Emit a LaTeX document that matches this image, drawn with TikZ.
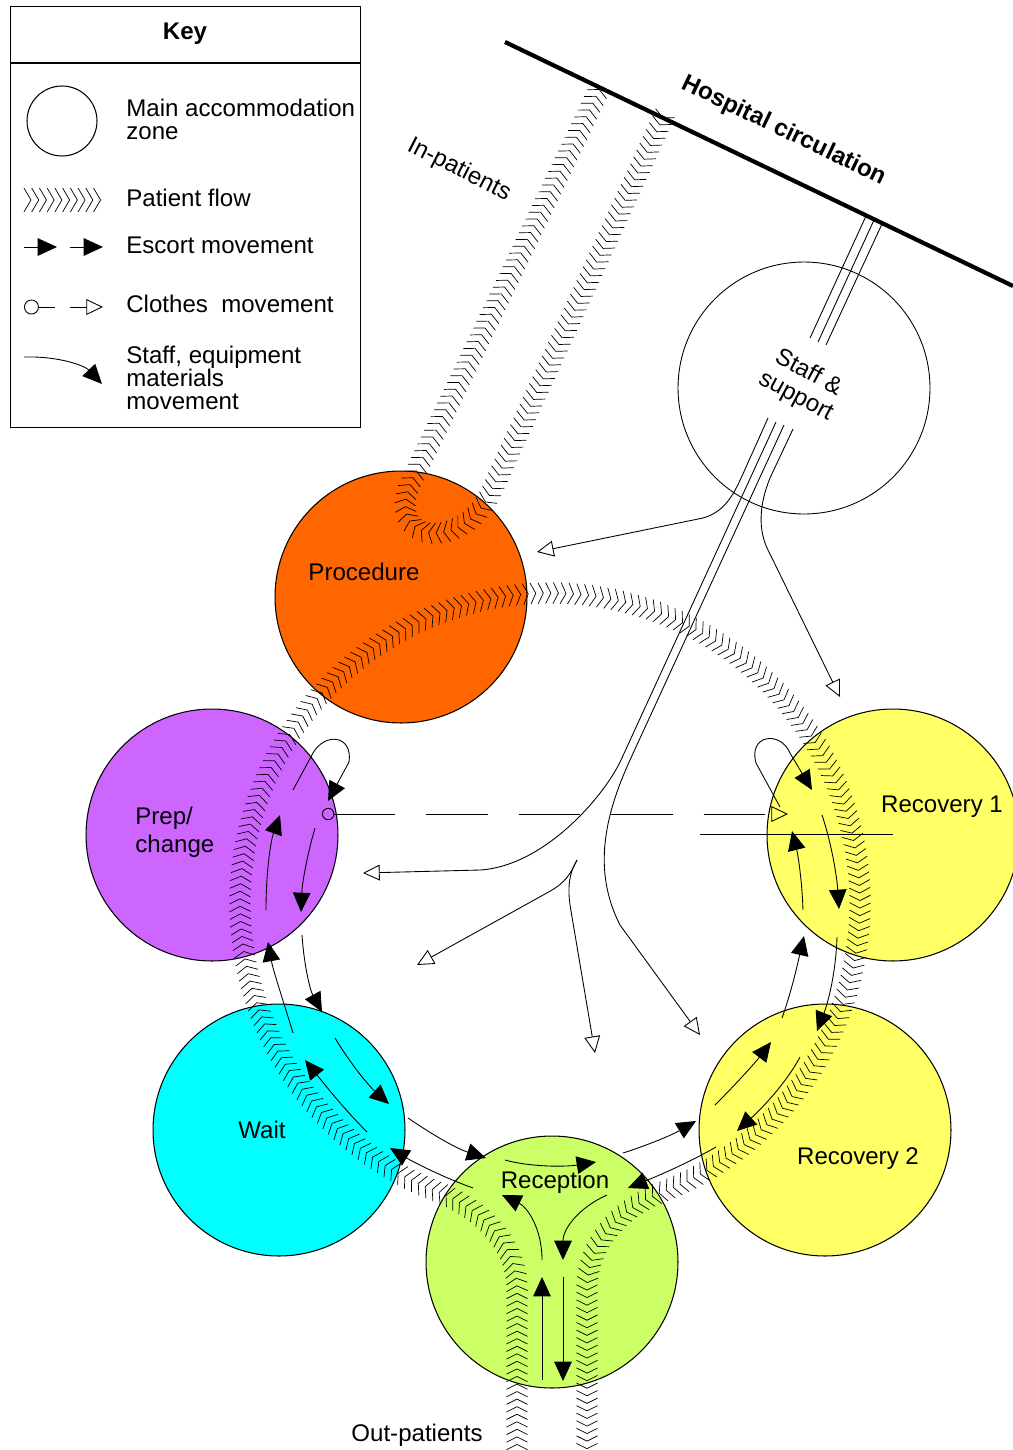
\documentclass[tikz,border=0pt]{standalone}
\usepackage{fontspec}
\setmainfont{Liberation Sans}
\usetikzlibrary{arrows.meta,decorations.markings}
\definecolor{procorange}{HTML}{FF6600}
\definecolor{preppurple}{HTML}{CC66FF}
\definecolor{recyellow}{HTML}{FFFF66}
\definecolor{waitcyan}{HTML}{00FFFF}
\definecolor{reclime}{HTML}{CCFF66}
\begin{document}
\begin{tikzpicture}[
    x=0.02cm, y=-0.02cm,
    zone/.style={circle, draw, line width=0.6pt, minimum size=5.04cm, inner sep=0pt},
    lbl/.style={inner sep=0pt, font=\fontsize{13.7}{13}\selectfont},
    boldlbl/.style={inner sep=0pt, font=\fontsize{13.7}{13}\selectfont\bfseries},
    pflow/.style={postaction={decorate}, decoration={markings,
        mark=between positions 0 and 1 step 4.3pt with
        {\draw[line width=0.4pt] (-3pt,6pt) -- (0pt,0pt) -- (-3pt,-6pt);}}},
    keyflow/.style={postaction={decorate}, decoration={markings,
        mark=between positions 0 and 1 step 4.4pt with
        {\draw[line width=0.4pt] (-4pt,6.8pt) -- (0pt,0pt) -- (-4pt,-6.8pt);}}},
    esc/.style={line width=0.5pt, -{Triangle[length=11pt,width=10pt]}},
    staff/.style={line width=0.5pt, -{Triangle[open,length=9.5pt,width=9pt]}},
    clothes/.style={line width=0.5pt, dash pattern=on 35pt off 17.6pt,
        {Circle[open,length=7pt]}-{Triangle[open,length=9.5pt,width=9pt]}}
]
\useasboundingbox (0,0) rectangle (1013,1450);
\clip (0,0) rectangle (1013,1450);

\node[draw, line width=0.6pt, anchor=north west, minimum width=7cm, minimum height=8.42cm, inner sep=0pt] (keybox) at (10,6) {};
\coordinate (ksep1) at (10,63);
\coordinate (ksep2) at (360,63);
\draw[line width=0.6pt] (ksep1) -- (ksep2);
\node[boldlbl] (keytitle) at (185,34) {Key};

\node[zone, minimum size=1.4cm] (keyzone) at (62,121) {};
\node[lbl, anchor=west, align=left] (keyzonetxt) at (126,119) {Main accommodation\\zone};

\coordinate (kf1) at (31,200);
\coordinate (kf2) at (101,200);
\path[keyflow] (kf1) -- (kf2);
\node[lbl, anchor=west] (keyflowtxt) at (126,198) {Patient flow};

\coordinate (ke1) at (24,247);
\coordinate (ke2) at (57,247);
\coordinate (ke3) at (70,247);
\coordinate (ke4) at (103,247);
\draw[esc] (ke1) -- (ke2);
\draw[esc] (ke3) -- (ke4);
\node[lbl, anchor=west] (keyesctxt) at (126,245) {Escort movement};

\coordinate (kc1) at (24,307);
\coordinate (kc2) at (55,307);
\coordinate (kc3) at (70,307);
\coordinate (kc4) at (103,307);
\draw[line width=0.5pt, {Circle[open,length=8.5pt]}-] (kc1) -- (kc2);
\draw[line width=0.5pt, -{Triangle[open,length=9.5pt,width=9pt]}] (kc3) -- (kc4);
\node[lbl, anchor=west] (keyclothtxt) at (126,304) {Clothes\ \ movement};

\coordinate (ks1) at (24,357);
\coordinate (ks2) at (102,384);
\draw[esc] (ks1) .. controls (60,356) and (85,366) .. (ks2);
\node[lbl, anchor=west, align=left] (keystafftxt) at (126,378) {Staff, equipment\\materials\\movement};

\coordinate (hc1) at (505,42);
\coordinate (hc2) at (1013,286);
\draw[line width=2.4pt] (hc1) -- (hc2);

\node[zone, fill=procorange] (proc) at (401,597) {};
\node[zone, fill=preppurple] (prep) at (212,835) {};
\node[zone, fill=recyellow] (rec1) at (893,835) {};
\node[zone, fill=waitcyan] (wait) at (279,1130) {};
\node[zone, fill=reclime] (recep) at (552,1262) {};
\node[zone, fill=recyellow] (rec2) at (825,1130) {};
\node[zone, line width=0.5pt] (staffzone) at (804,388) {};

\coordinate (in1) at (663,118);
\coordinate (in2) at (492,490);
\coordinate (in3) at (412,480);
\coordinate (in4) at (600,88);
\path[pflow] (in1) -- (in2) .. controls (463,554) and (382,543) .. (in3) -- (in4);

\coordinate (out1) at (517,1452);
\coordinate (out2) at (517,1290);
\coordinate (ring1) at (438.9,1192.4);
\coordinate (out3) at (587,1290);
\coordinate (out4) at (587,1452);
\path[pflow] (out1) -- (out2) .. controls (517,1240) and (476,1207) .. (ring1)
    plot[smooth, samples=60, domain=111:429] ({550+310*cos(\x)}, {903+310*sin(\x)})
    .. controls (624,1207) and (587,1240) .. (out3) -- (out4);

\coordinate (st1) at (866,216);
\coordinate (sb1) at (810,338);
\coordinate (st2) at (874,220);
\coordinate (sb2) at (818,342);
\coordinate (st3) at (882,224);
\coordinate (sb3) at (826,345);
\draw[line width=0.5pt] (st1) -- (sb1);
\draw[line width=0.5pt] (st2) -- (sb2);
\draw[line width=0.5pt] (st3) -- (sb3);

\coordinate (sl1) at (768,418);
\coordinate (sl2) at (776,422);
\coordinate (sl3) at (784,425);
\coordinate (sl4) at (793,429);
\coordinate (toproc) at (537,552);
\coordinate (toprep) at (363,873);
\coordinate (torec2) at (700,1035);
\coordinate (torec1) at (840,697);
\draw[staff] (sl1) -- (742,476) .. controls (733,496) and (724,512) .. (703,518) -- (toproc);
\draw[staff] (sl2) -- (621,760) .. controls (605,795) and (545,866) .. (480,870) -- (toprep);
\draw[staff] (sl3) -- (630,760) .. controls (605,815) and (592,870) .. (620,925) -- (torec2);
\draw[staff] (sl4) -- (770,478) .. controls (759,505) and (758,530) .. (768,550) -- (torec1);

\coordinate (ybr) at (577,860);
\coordinate (towait) at (417,965);
\coordinate (torecep) at (595,1053);
\draw[staff] (ybr) .. controls (568,880) and (560,886) .. (545,894) -- (towait);
\draw[staff] (ybr) .. controls (568,875) and (568,890) .. (570,905) -- (torecep);

\coordinate (cl1) at (322,814);
\coordinate (cl2) at (788,814);
\draw[clothes] (cl1) -- (cl2);

\coordinate (pl1) at (293,790);
\coordinate (pl2) at (313,753);
\coordinate (pl3) at (349,762);
\coordinate (pl4) at (328,801);
\draw[esc] (pl1) -- (pl2) .. controls (325,732) and (353,735) .. (pl3) -- (pl4);
\coordinate (pu1) at (266,910);
\coordinate (pu2) at (280,815);
\draw[esc] (pu1) .. controls (266,870) and (271,840) .. (pu2);
\coordinate (pd1) at (315,828);
\coordinate (pd2) at (301,912);
\draw[esc] (pd1) .. controls (307,855) and (302,885) .. (pd2);
\coordinate (wp1) at (293,1033);
\coordinate (wp2) at (268,942);
\draw[esc] (wp1) .. controls (283,1000) and (273,970) .. (wp2);
\coordinate (pw1) at (302,935);
\coordinate (pw2) at (322,1012);
\draw[esc] (pw1) .. controls (304,965) and (310,990) .. (pw2);

\coordinate (wd1) at (335,1038);
\coordinate (wd2) at (389,1104);
\draw[esc] (wd1) .. controls (350,1063) and (368,1085) .. (wd2);
\coordinate (wu1) at (367,1132);
\coordinate (wu2) at (305,1060);
\draw[esc] (wu1) .. controls (345,1110) and (325,1085) .. (wu2);
\coordinate (wr1) at (408,1118);
\coordinate (wr2) at (486,1158);
\draw[esc] (wr1) .. controls (430,1133) and (455,1148) .. (wr2);
\coordinate (rw1) at (473,1188);
\coordinate (rw2) at (390,1148);
\draw[esc] (rw1) .. controls (445,1178) and (415,1163) .. (rw2);

\coordinate (rt1) at (505,1160);
\coordinate (rt2) at (596,1162);
\draw[esc] (rt1) .. controls (530,1167) and (565,1167) .. (rt2);
\coordinate (rl1) at (542,1260);
\coordinate (rl2) at (502,1195);
\draw[esc] (rl1) .. controls (542,1228) and (527,1207) .. (rl2);
\coordinate (rr1) at (607,1195);
\coordinate (rr2) at (563,1260);
\draw[esc] (rr1) .. controls (580,1207) and (563,1228) .. (rr2);
\coordinate (ru1) at (542,1380);
\coordinate (ru2) at (542,1277);
\draw[esc] (ru1) -- (ru2);
\coordinate (rd1) at (563,1277);
\coordinate (rd2) at (563,1381);
\draw[esc] (rd1) -- (rd2);

\coordinate (ra1) at (623,1153);
\coordinate (ra2) at (696,1121);
\draw[esc] (ra1) .. controls (648,1145) and (672,1135) .. (ra2);
\coordinate (rb1) at (716,1147);
\coordinate (rb2) at (628,1188);
\draw[esc] (rb1) .. controls (690,1162) and (660,1175) .. (rb2);
\coordinate (qu1) at (715,1105);
\coordinate (qu2) at (771,1042);
\draw[esc] (qu1) .. controls (735,1085) and (755,1063) .. (qu2);
\coordinate (qd1) at (800,1057);
\coordinate (qd2) at (737,1131);
\draw[esc] (qd1) .. controls (785,1085) and (760,1110) .. (qd2);
\coordinate (qa1) at (782,1018);
\coordinate (qa2) at (804,936);
\draw[esc] (qa1) .. controls (792,990) and (798,962) .. (qa2);
\coordinate (qb1) at (837,937);
\coordinate (qb2) at (817,1031);
\draw[esc] (qb1) .. controls (836,970) and (829,1000) .. (qb2);

\coordinate (vl1) at (780,807);
\coordinate (vl2) at (756,763);
\coordinate (vl3) at (790,753);
\coordinate (vl4) at (812,790);
\draw[esc] (vl1) -- (vl2) .. controls (748,735) and (780,730) .. (vl3) -- (vl4);
\coordinate (vu1) at (803,910);
\coordinate (vu2) at (792,831);
\draw[esc] (vu1) .. controls (802,880) and (798,855) .. (vu2);
\coordinate (vd1) at (822,815);
\coordinate (vd2) at (839,909);
\draw[esc] (vd1) .. controls (832,845) and (837,878) .. (vd2);
\coordinate (vh1) at (700,834);
\coordinate (vh2) at (893,834);
\draw[line width=0.5pt] (vh1) -- (vh2);

\node[boldlbl, rotate=-25.6] (hosplbl) at (784,131) {Hospital circulation};
\node[lbl, rotate=-27] (inlbl) at (459,170) {In-patients};
\node[lbl, rotate=-28, align=center, font=\fontsize{13.7}{15}\selectfont] (stafflbl) at (802,385) {Staff \&\\support};
\node[lbl] (proclbl) at (364,572) {Procedure};
\node[lbl, anchor=west, align=left, font=\fontsize{13.7}{16}\selectfont] (preplbl) at (135,832) {Prep/\\change};
\node[lbl] (rec1lbl) at (942,807) {Recovery 1};
\node[lbl] (waitlbl) at (262,1130) {Wait};
\node[lbl] (receplbl) at (555,1182) {Reception};
\node[lbl] (rec2lbl) at (858,1159) {Recovery 2};
\node[lbl] (outlbl) at (417,1435) {Out-patients};
\end{tikzpicture}
\end{document}
